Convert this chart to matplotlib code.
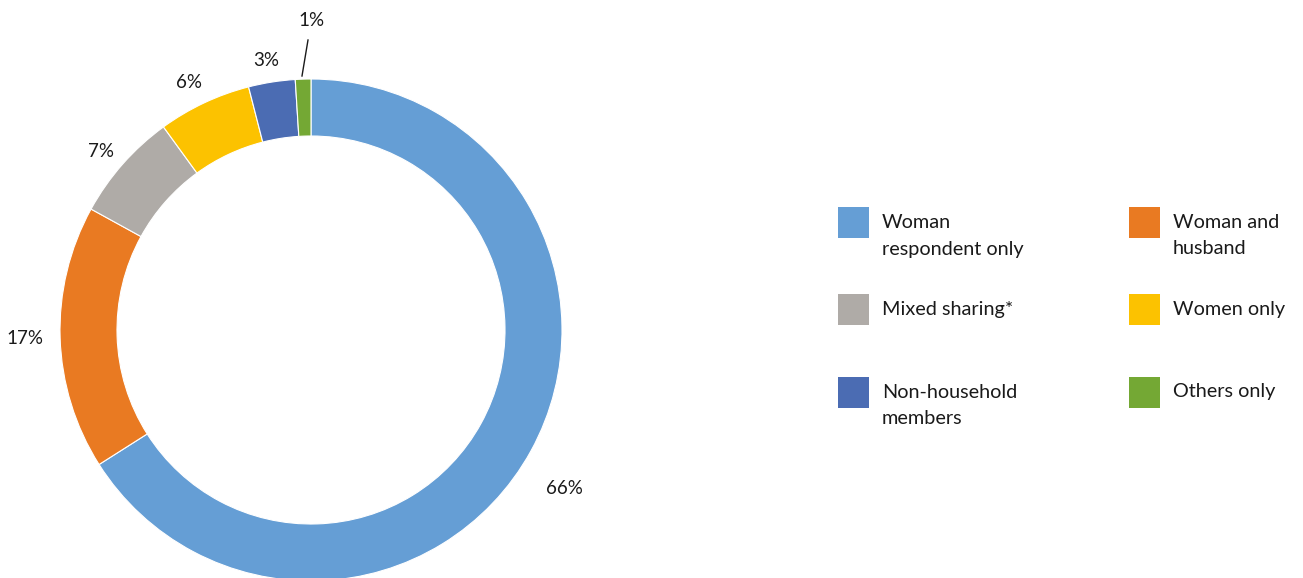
import numpy as np
import matplotlib
matplotlib.use('Agg')
import matplotlib.pyplot as plt
from matplotlib.patches import Rectangle

plt.rcParams['font.family'] = ['Lato', 'DejaVu Sans']

categories = ['Woman\nrespondent only', 'Woman and\nhusband', 'Mixed sharing*',
              'Women only', 'Non-household\nmembers', 'Others only']
shares = [66, 17, 7, 6, 3, 1]
pct_labels = ['66%', '17%', '7%', '6%', '3%', '1%']
colors = ['#659ED5', '#E97A22', '#AFABA7', '#FCC200', '#4B6CB3', '#74A834']

W, H = 1303, 578
fig = plt.figure(figsize=(W/100, H/100), dpi=100)
ax = fig.add_axes([0, 0, 1, 1])

cx, cy, R = 311, H - 330, 251
wedges, _ = ax.pie(shares, colors=colors, startangle=90, counterclock=False,
                   center=(cx, cy), radius=R, frame=True,
                   wedgeprops=dict(width=57, edgecolor='white', linewidth=0.8))
ax.set_xlim(0, W)
ax.set_ylim(0, H)
ax.set_aspect('equal')
ax.axis('off')

# percentage labels (radial distance, angular nudge)
dist = [1.19, 1.14, 1.10, 1.10, 1.09, 1.23]
nudge = [-3.2, 0, 1.0, 1.0, 0.4, 0]
for w, lab, d, dn in zip(wedges, pct_labels, dist, nudge):
    ang = np.deg2rad((w.theta1 + w.theta2) / 2 + dn)
    x = cx + R * d * np.cos(ang)
    y = cy + R * d * np.sin(ang)
    if lab == '1%':
        x, y = cx + 1, H - 20
        ax.plot([308, 302], [H - 40, H - 76], color='#1a1a1a', lw=1)
    ax.text(x, y, lab, ha='center', va='center', fontsize=13.5, color='#1a1a1a')

# legend
col_x = [838, 1129]
row_y = [222, 309, 392]
sq = 31
for i, (name, c) in enumerate(zip(categories, colors)):
    x0 = col_x[i % 2]
    yc = row_y[i // 2]
    ax.add_patch(Rectangle((x0, H - yc - sq/2), sq, sq, color=c, lw=0))
    for j, line in enumerate(name.split('\n')):
        ax.text(x0 + 44, H - yc - j*27, line, ha='left', va='center',
                fontsize=14.3, color='#1a1a1a')

fig.savefig('out.png', dpi=100)
